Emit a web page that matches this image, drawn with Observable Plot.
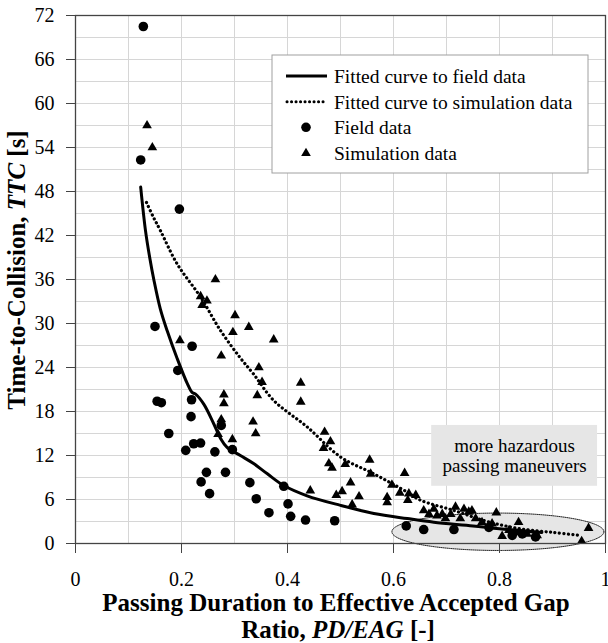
<!DOCTYPE html>
<html><head><meta charset="utf-8">
<script src="https://cdn.jsdelivr.net/npm/d3@7"></script>
<script src="https://cdn.jsdelivr.net/npm/@observablehq/plot@0.6"></script>
<style>
body{margin:0;background:#fff;}
#chart{position:relative;width:608px;height:643px;}
#chart svg text{font-family:'Liberation Serif','Times New Roman',serif;}
</style>
</head><body><div id="chart"></div>
<script>
// ---- data ----
const fieldX = [0.128,0.123,0.196,0.150,0.220,0.193,0.154,0.162,0.219,0.218,0.176,0.275,0.208,0.223,0.236,0.263,0.296,0.247,0.283,0.237,0.329,0.253,0.341,0.365,0.393,0.401,0.406,0.434,0.489,0.624,0.657,0.714,0.780,0.824,0.843,0.868];
const fieldY = [70.5,52.3,45.6,29.6,26.9,23.6,19.4,19.2,19.6,17.3,15.0,16.1,12.7,13.6,13.7,12.5,12.8,9.7,9.7,8.4,8.3,6.8,6.1,4.2,7.8,5.4,3.7,3.2,3.1,2.4,1.9,1.9,2.2,1.1,1.3,0.9];

const simX = [0.135,0.145,0.264,0.236,0.248,0.239,0.301,0.327,0.297,0.197,0.374,0.275,0.346,0.352,0.343,0.280,0.280,0.425,0.425,0.275,0.269,0.296,0.335,0.340,0.470,0.481,0.468,0.478,0.484,0.509,0.555,0.557,0.519,0.443,0.503,0.492,0.535,0.522,0.621,0.597,0.612,0.588,0.588,0.642,0.627,0.629,0.657,0.667,0.676,0.682,0.692,0.698,0.708,0.717,0.733,0.726,0.748,0.742,0.755,0.767,0.786,0.794,0.836,0.805,0.818,0.830,0.852,0.871,0.968,0.955];
const simY = [57.0,54.0,36.0,33.7,33.1,32.5,31.1,29.5,28.8,27.7,27.8,25.6,24.0,22.0,20.2,20.3,19.1,21.9,19.3,16.9,14.9,14.2,16.6,15.0,15.2,13.9,13.0,10.9,10.3,10.8,11.4,9.5,8.3,7.2,7.1,6.6,6.4,5.3,9.6,8.0,6.9,6.3,5.6,6.6,5.9,6.8,4.5,4.0,4.7,3.8,4.0,3.4,4.0,5.0,4.7,3.4,4.5,4.3,3.4,2.9,2.7,4.2,2.9,1.0,1.8,1.5,1.3,1.1,2.1,0.3];

const fitFieldX = [0.123,0.132,0.140,0.148,0.160,0.173,0.192,0.211,0.220,0.226,0.242,0.261,0.274,0.286,0.311,0.336,0.362,0.393,0.437,0.500,0.563,0.626,0.676,0.750,0.800,0.880];
const fitFieldY = [48.6,42.7,39.0,35.9,32.0,29.0,25.2,21.8,20.6,20.4,19.0,16.3,14.3,13.1,12.0,10.9,9.5,7.9,6.5,5.2,4.1,3.4,2.9,2.4,2.0,1.5];

const fitSimX = [0.134,0.147,0.160,0.192,0.236,0.274,0.311,0.336,0.374,0.437,0.500,0.563,0.626,0.651,0.714,0.777,0.840,0.902,0.953];
const fitSimY = [46.5,44.5,42.7,38.1,33.6,29.0,25.3,23.1,19.5,15.9,11.8,9.5,7.0,5.9,4.5,3.0,2.0,1.5,1.1];

const xTicks = [0,0.2,0.4,0.6,0.8,1];
const yTicks = [0,6,12,18,24,30,36,42,48,54,60,66,72];
const xGrid = [0.1,0.2,0.3,0.4,0.5,0.6,0.7,0.8,0.9];
const yGrid = [3,6,9,12,15,18,21,24,27,30,33,36,39,42,45,48,51,54,57,60,63,66,69];

const legendLabels = ["Fitted curve to field data","Fitted curve to simulation data","Field data","Simulation data"];
const noteText = "more hazardous\npassing maneuvers";

// ---- tables ----
const field = fieldX.map((x,i)=>({x, y: fieldY[i]}));
const sim = simX.map((x,i)=>({x, y: simY[i]}));
const fitField = fitFieldX.map((x,i)=>({x, y: fitFieldY[i]}));
const fitSim = fitSimX.map((x,i)=>({x, y: fitSimY[i]}));

// annotation geometry (data units)
const ell = {cx:0.797, cy:1.6, rx:0.200, ry:2.55};
const ellPts = d3.range(0, 361, 3).map(a => {
  const t = a*Math.PI/180;
  return {x: ell.cx + ell.rx*Math.cos(t), y: ell.cy + ell.ry*Math.sin(t)};
});
const noteBox = {x1:0.672, x2:0.985, y1:7.8, y2:16.1};

const serif = "'Liberation Serif','Times New Roman',serif";

const plot = Plot.plot({
  width: 608, height: 643,
  marginLeft: 75, marginRight: 3, marginTop: 15, marginBottom: 100,
  style: {fontFamily: serif, fontSize: "20px", color: "#000", background: "#fff"},
  x: {domain: [0, 1]},
  y: {domain: [0, 72]},
  marks: [
    Plot.gridX(xGrid, {stroke: "#d6d6d6", strokeOpacity: 1, strokeWidth: 1}),
    Plot.gridY(yGrid, {stroke: "#d6d6d6", strokeOpacity: 1, strokeWidth: 1}),
    Plot.line(ellPts, {x: "x", y: "y", curve: "linear-closed", fill: "#e6e6e6", stroke: "#222", strokeWidth: 1, strokeDasharray: "1,1"}),
    Plot.rect([noteBox], {x1: "x1", x2: "x2", y1: "y1", y2: "y2", fill: "#e6e6e6"}),
    Plot.text([noteText], {x: (noteBox.x1+noteBox.x2)/2, y: (noteBox.y1+noteBox.y2)/2, text: d => d, fontSize: 19, lineHeight: 1.05, fill: "#000"}),
    Plot.line(fitSim, {x: "x", y: "y", curve: "catmull-rom", stroke: "#000", strokeWidth: 3.2, strokeDasharray: "0.1,4.4", strokeLinecap: "round"}),
    Plot.line(fitField, {x: "x", y: "y", curve: "catmull-rom", stroke: "#000", strokeWidth: 3}),
    Plot.dot(field, {x: "x", y: "y", symbol: "circle", r: 4.8, fill: "#000", stroke: "none"}),
    Plot.dot(sim, {x: "x", y: "y", symbol: "triangle", r: 3.6, fill: "#000", stroke: "none"}),
    Plot.frame({stroke: "#444", strokeWidth: 1.3}),
    Plot.axisX({ticks: xTicks, tickSize: 10, tickPadding: 18, stroke: "#444", fill: "#000", label: null,
      tickFormat: d => String(+d.toFixed(1))}),
    Plot.axisY({ticks: yTicks, tickSize: 9, tickPadding: 12, stroke: "#444", fill: "#000", label: null})
  ]
});

document.getElementById("chart").appendChild(plot);

const svg = d3.select(plot);
// y axis title
const yt = svg.append("text")
  .attr("transform", "translate(25,270) rotate(-90)")
  .attr("text-anchor", "middle")
  .attr("font-family", serif).attr("font-size", 25).attr("font-weight", "bold").attr("fill", "#000");
yt.append("tspan").text("Time-to-Collision, ");
yt.append("tspan").attr("font-style", "italic").text("TTC");
yt.append("tspan").text(" [s]");

// x axis title
svg.append("text").attr("x", 336).attr("y", 611)
  .attr("text-anchor", "middle").attr("font-family", serif).attr("font-size", 25).attr("font-weight", "bold").attr("fill", "#000")
  .text("Passing Duration to Effective Accepted Gap");
const xt2 = svg.append("text").attr("x", 338).attr("y", 638)
  .attr("text-anchor", "middle").attr("font-family", serif).attr("font-size", 25).attr("font-weight", "bold").attr("fill", "#000");
xt2.append("tspan").text("Ratio, ");
xt2.append("tspan").attr("font-style", "italic").text("PD/EAG");
xt2.append("tspan").text(" [-]");

// legend
const lg = svg.append("g");
lg.append("rect").attr("x", 272).attr("y", 55).attr("width", 316).attr("height", 118)
  .attr("fill", "#fff").attr("stroke", "#a0a0a0").attr("stroke-width", 1);
const rowY = [76, 101.7, 127.3, 153.3];
lg.append("line").attr("x1", 286).attr("x2", 327).attr("y1", rowY[0]).attr("y2", rowY[0]).attr("stroke", "#000").attr("stroke-width", 3);
lg.append("line").attr("x1", 287).attr("x2", 327).attr("y1", rowY[1]).attr("y2", rowY[1]).attr("stroke", "#000").attr("stroke-width", 3)
  .attr("stroke-dasharray", "0.1,4.4").attr("stroke-linecap", "round");
lg.append("circle").attr("cx", 306).attr("cy", rowY[2]).attr("r", 4.8).attr("fill", "#000");
lg.append("path").attr("transform", `translate(306,${rowY[3]})`).attr("d", d3.symbol(d3.symbolTriangle, Math.PI*3.6*3.6)()).attr("fill", "#000");
legendLabels.forEach((t, i) => {
  lg.append("text").attr("x", 334).attr("y", rowY[i]).attr("dy", "0.35em").attr("text-anchor", "start")
    .attr("font-family", serif).attr("font-size", 19.5).attr("fill", "#000").text(t);
});
</script>
</body></html>
